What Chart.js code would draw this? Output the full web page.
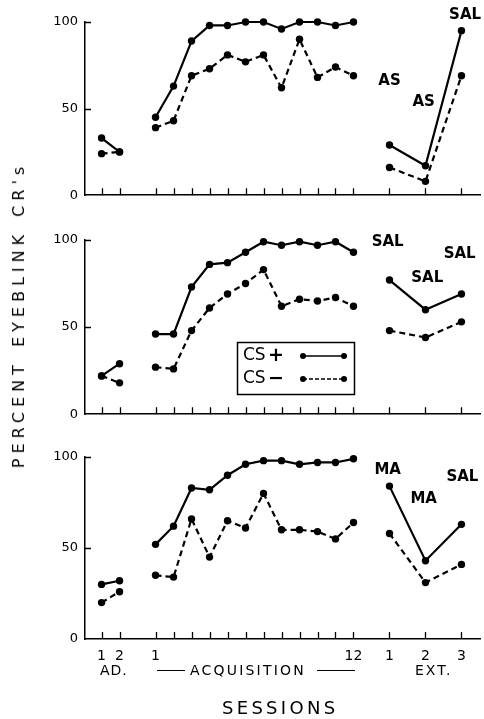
<!DOCTYPE html>
<html><head><meta charset="utf-8">
<script src="https://cdn.jsdelivr.net/npm/chart.js@4.4.1/dist/chart.umd.min.js"></script>
<style>
html,body{margin:0;padding:0;background:#fff;width:484px;height:719px;overflow:hidden;position:relative;}
canvas{position:absolute;left:0;}
.t{position:absolute;font-family:"DejaVu Sans",sans-serif;color:#000;white-space:nowrap;line-height:1;}
.rule{position:absolute;height:0;border-top:1.5px solid #000;}
</style></head><body>
<canvas id="p1" width="484" height="210" style="top:0px"></canvas>
<canvas id="p2" width="484" height="211" style="top:218px"></canvas>
<canvas id="p3" width="484" height="240" style="top:435px"></canvas>

<div class="t" id="ytitle" style="font-size:16px;letter-spacing:5px;word-spacing:3px;left:19px;top:315px;transform:translate(-50%,-50%) rotate(-90deg);">PERCENT EYEBLINK CR's</div>
<div class="t" style="font-size:14px;left:100px;top:663px;letter-spacing:1px;">AD.</div>
<div class="rule" style="left:157px;width:28px;top:670px;"></div>
<div class="t" style="font-size:14px;left:190px;top:663px;letter-spacing:2.2px;">ACQUISITION</div>
<div class="rule" style="left:317px;width:38px;top:670px;"></div>
<div class="t" style="font-size:14px;left:415px;top:663px;letter-spacing:2px;">EXT.</div>
<div class="t" style="font-size:18px;left:222px;top:699px;letter-spacing:3.3px;">SESSIONS</div>

<script>
// ---- categories / tick labels ----
const adLabels  = ['1','2'];
const acqLabels = ['1','','','','','','','','','','','12'];
const extLabels = ['1','2','3'];
const yTicks = [0, 50, 100];

// ---- series values (percent eyeblink CRs) ----
// Panel 1 (AS / AS / SAL)
const p1PlusAD  = [33, 25];
const p1PlusAcq = [45, 63, 89, 98, 98, 100, 100, 96, 100, 100, 98, 100];
const p1PlusExt = [29, 17, 95];
const p1MinusAD  = [24, 25];
const p1MinusAcq = [39, 43, 69, 73, 81, 77, 81, 62, 90, 68, 74, 69];
const p1MinusExt = [16, 8, 69];
// Panel 2 (SAL / SAL / SAL)
const p2PlusAD  = [22, 29];
const p2PlusAcq = [46, 46, 73, 86, 87, 93, 99, 97, 99, 97, 99, 93];
const p2PlusExt = [77, 60, 69];
const p2MinusAD  = [22, 18];
const p2MinusAcq = [27, 26, 48, 61, 69, 75, 83, 62, 66, 65, 67, 62];
const p2MinusExt = [48, 44, 53];
// Panel 3 (MA / MA / SAL)
const p3PlusAD  = [30, 32];
const p3PlusAcq = [52, 62, 83, 82, 90, 96, 98, 98, 96, 97, 97, 99];
const p3PlusExt = [84, 43, 63];
const p3MinusAD  = [20, 26];
const p3MinusAcq = [35, 34, 66, 45, 65, 61, 80, 60, 60, 59, 55, 64];
const p3MinusExt = [58, 31, 41];

// drug labels per panel: [text, session-axis x, percent y]
const p1Notes = [['SAL', 20.2, 104], ['AS', 16.0, 66], ['AS', 17.9, 54]];
const p2Notes = [['SAL', 15.9, 99], ['SAL', 19.9, 92], ['SAL', 18.1, 78]];
const p3Notes = [['MA', 15.9, 93], ['MA', 17.9, 77], ['SAL', 20.05, 89]];

// ---- session positions on the x axis ----
const adX  = adLabels.map((_, i) => i);          // 0,1
const acqX = acqLabels.map((_, i) => 3 + i);     // 3..14
const extX = extLabels.map((_, i) => 16 + 2 * i);// 16,18,20
const allX = [...adX, ...acqX, ...extX];
const allLabels = [...adLabels, ...acqLabels, ...extLabels];

function build(ad, acq, ext) {
  const d = [];
  ad.forEach((v, i) => d.push({x: adX[i], y: v}));
  d.push({x: 2, y: null});
  acq.forEach((v, i) => d.push({x: acqX[i], y: v}));
  d.push({x: 15, y: null});
  ext.forEach((v, i) => d.push({x: extX[i], y: v}));
  return d;
}

const innerTicks = {
  id: 'innerTicks',
  afterDraw(chart) {
    const {ctx, chartArea: a, scales: {x, y}} = chart;
    ctx.save();
    ctx.strokeStyle = '#000';
    ctx.lineWidth = 1.3;
    ctx.beginPath();
    allX.forEach(v => {
      const px = Math.round(x.getPixelForValue(v)) + 0.5;
      ctx.moveTo(px, a.bottom); ctx.lineTo(px, a.bottom - 7);
    });
    [50, 100].forEach(v => {
      const py = Math.round(y.getPixelForValue(v)) + 0.5;
      ctx.moveTo(a.left, py); ctx.lineTo(a.left + 6, py);
    });
    ctx.stroke();
    ctx.restore();
  }
};

const notesPlugin = {
  id: 'notes',
  afterDraw(chart, args, opts) {
    const {ctx, scales: {x, y}} = chart;
    ctx.save();
    ctx.fillStyle = '#000';
    ctx.font = 'bold 15px "DejaVu Sans", sans-serif';
    ctx.textAlign = 'center';
    ctx.textBaseline = 'middle';
    (opts.items || []).forEach(([t, vx, vy]) => {
      ctx.fillText(t, x.getPixelForValue(vx), y.getPixelForValue(vy));
    });
    ctx.restore();
  }
};

const legendBox = {
  id: 'legendBox',
  afterDraw(chart, args, opts) {
    if (!opts.show) return;
    const {ctx, chartArea: a} = chart;
    const L = a.left + 152, T = a.top + 102, W = 117, H = 52;
    ctx.save();
    ctx.strokeStyle = '#000'; ctx.fillStyle = '#000';
    ctx.lineWidth = 1.5;
    ctx.strokeRect(L + 0.5, T + 0.5, W, H);
    ctx.textBaseline = 'middle';
    const rows = [['+', [], T + 14], ['−', [4, 2], T + 37]];
    rows.forEach(([sym, dash, cy]) => {
      ctx.font = '17px "DejaVu Sans", sans-serif';
      ctx.textAlign = 'left';
      ctx.fillText('CS', L + 6, cy);
      ctx.font = 'bold 19px "DejaVu Sans", sans-serif';
      ctx.fillText(sym, L + 31, cy);
      ctx.beginPath();
      ctx.setLineDash(dash);
      ctx.lineWidth = 1.6;
      ctx.moveTo(L + 66, cy); ctx.lineTo(L + 107, cy);
      ctx.stroke();
      ctx.setLineDash([]);
      [L + 66, L + 107].forEach(px => {
        ctx.beginPath(); ctx.arc(px, cy, 3, 0, Math.PI * 2); ctx.fill();
      });
    });
    ctx.restore();
  }
};

function makeChart(id, plus, minus, notes, opts) {
  const font = {family: '"DejaVu Sans", sans-serif', size: 13};
  const ds = (data, dash) => ({
    data, borderColor: '#000', backgroundColor: '#000', borderWidth: 2.2,
    borderDash: dash, pointRadius: 3.7, pointBackgroundColor: '#000',
    pointBorderWidth: 0, spanGaps: false, tension: 0, clip: false
  });
  return new Chart(document.getElementById(id), {
    type: 'line',
    data: {datasets: [ds(plus, []), ds(minus, [6, 4])]},
    plugins: [innerTicks, notesPlugin, legendBox],
    options: {
      responsive: false, animation: false,
      layout: {padding: {top: 22, right: 0, left: 0, bottom: 0}},
      plugins: {
        legend: {display: false}, tooltip: {enabled: false},
        notes: {items: notes}, legendBox: {show: !!opts.legend}
      },
      scales: {
        x: {
          type: 'linear', min: -0.92, max: 21.03,
          afterBuildTicks: s => { s.ticks = allX.map(v => ({value: v})); },
          ticks: {
            display: !!opts.labels, autoSkip: false, maxRotation: 0,
            padding: 9, color: '#000',
            font: {family: '"DejaVu Sans", sans-serif', size: 14},
            callback: v => allLabels[allX.indexOf(v)]
          },
          grid: {display: true, drawOnChartArea: false, drawTicks: false},
          border: {display: true, color: '#000', width: 1.5},
          afterFit: s => { s.height = opts.xh; }
        },
        y: {
          min: 0, max: 100,
          afterBuildTicks: s => { s.ticks = yTicks.map(v => ({value: v})); },
          ticks: {padding: 7, color: '#000', font},
          grid: {display: true, drawOnChartArea: false, drawTicks: false},
          border: {display: true, color: '#000', width: 1.5},
          afterFit: s => { s.width = 85; }
        }
      }
    }
  });
}

makeChart('p1', build(p1PlusAD, p1PlusAcq, p1PlusExt), build(p1MinusAD, p1MinusAcq, p1MinusExt), p1Notes, {xh: 8});
makeChart('p2', build(p2PlusAD, p2PlusAcq, p2PlusExt), build(p2MinusAD, p2MinusAcq, p2MinusExt), p2Notes, {xh: 8, legend: true});
makeChart('p3', build(p3PlusAD, p3PlusAcq, p3PlusExt), build(p3MinusAD, p3MinusAcq, p3MinusExt), p3Notes, {xh: 36, labels: true});
</script>
</body></html>
